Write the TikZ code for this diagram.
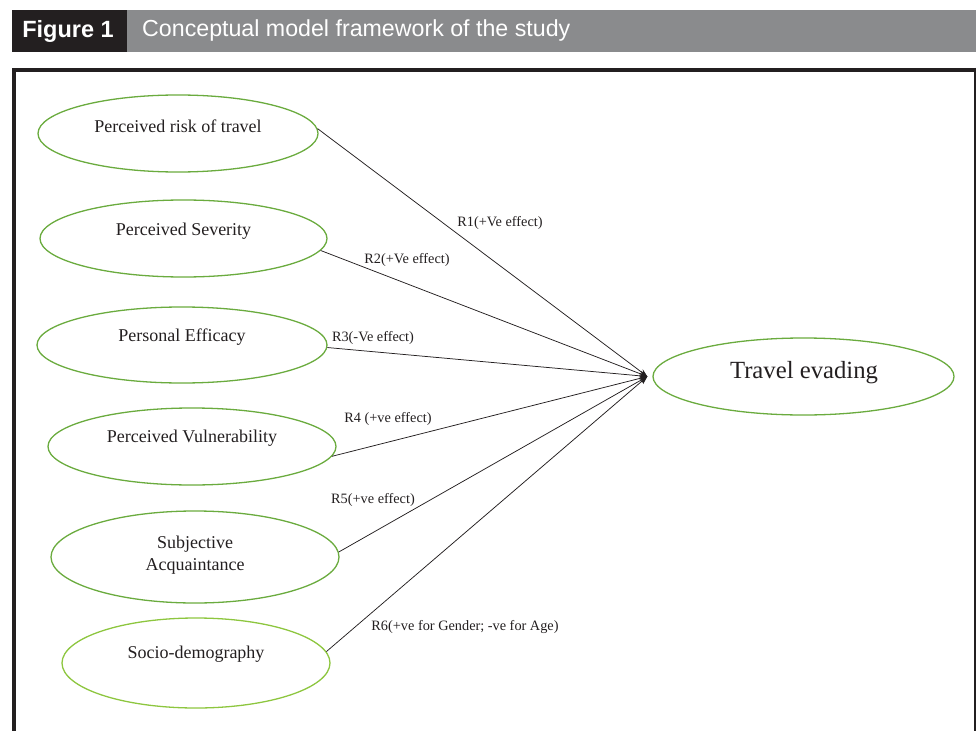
\documentclass[tikz,border=0pt]{standalone}
\usepackage{fontspec}
\setmainfont{Liberation Serif}
\newfontfamily\hdrfont{Liberation Sans}
\usetikzlibrary{arrows.meta,shapes.geometric}
\definecolor{framec}{HTML}{231F20}
\definecolor{hdrgray}{HTML}{8A8B8D}
\definecolor{egreen}{HTML}{6AAB3E}
\definecolor{elight}{HTML}{8DC63F}
\definecolor{txt}{HTML}{231F20}
\begin{document}
\begin{tikzpicture}[x=1pt,y=-1pt,
  ell/.style={ellipse, draw=egreen, line width=1.3pt, inner sep=0pt},
  elab/.style={font=\fontsize{18}{21}\selectfont, text=txt, align=center, inner sep=0pt},
  rlab/.style={font=\fontsize{14.3}{17}\selectfont, text=txt, inner sep=0pt},
  conn/.style={draw=txt, line width=0.75pt, -{Stealth[length=8pt,width=6pt]}}]
\useasboundingbox (0,0) rectangle (976,730);
\clip (0,0) rectangle (976,730);
% header
\fill[framec] (12,10) rectangle (127,52);
\fill[hdrgray] (127,10) rectangle (976,52);
\node[font=\hdrfont\bfseries\fontsize{23.5}{26}\selectfont, text=white, inner sep=0pt] (fig) at (68,31) {Figure 1};
\node[font=\hdrfont\fontsize{23.2}{26}\selectfont, text=white, anchor=west, inner sep=0pt] (title) at (142,31) {Conceptual model framework of the study};
% frame
\draw[framec, line width=4pt] (14,740) -- (14,70) -- (976,70);
\draw[framec, line width=2.5pt] (975,68) -- (975,740);
% ellipses
\node[ell, minimum width=280pt, minimum height=77pt] (e1) at (178,133.5) {};
\node[elab] (t1) at (178,126) {Perceived risk of travel};
\node[ell, minimum width=287pt, minimum height=77pt] (e2) at (183.5,238.5) {};
\node[elab] (t2) at (183.5,231) {Perceived Severity};
\node[ell, minimum width=290pt, minimum height=76pt] (e3) at (182,345) {};
\node[elab] (t3) at (182,337) {Personal Efficacy};
\node[ell, minimum width=288pt, minimum height=77pt] (e4) at (192,446.5) {};
\node[elab] (t4) at (192,438) {Perceived Vulnerability};
\node[ell, minimum width=288pt, minimum height=92pt] (e5) at (195,557) {};
\node[elab] (t5) at (195,555) {Subjective\\[1pt]Acquaintance};
\node[ell, draw=elight, minimum width=268pt, minimum height=90pt] (e6) at (196,663) {};
\node[elab] (t6) at (196,654) {Socio-demography};
\node[ell, minimum width=301pt, minimum height=77pt] (te) at (803.5,376.5) {};
\node[font=\fontsize{24.7}{28}\selectfont, text=txt, inner sep=0pt] (tt) at (804,373) {Travel evading};
\coordinate (hub) at ([xshift=-5pt]te.west);
% connectors
\draw[conn] (e1.2) -- (hub);
\draw[conn] (e2.-5) -- (hub);
\draw[conn] (e3.-1) -- (hub);
\draw[conn] (e4.-4) -- (hub);
\draw[conn] (e5.2) -- (hub);
\draw[conn] (e6.5) -- (hub);
% labels
\node[rlab] (r1) at (500,223) {R1(+Ve effect)};
\node[rlab] (r2) at (407,260) {R2(+Ve effect)};
\node[rlab] (r3) at (373,338) {R3(-Ve effect)};
\node[rlab] (r4) at (388,419) {R4 (+ve effect)};
\node[rlab] (r5) at (373,500) {R5(+ve effect)};
\node[rlab] (r6) at (465,627) {R6(+ve for Gender; -ve for Age)};
\end{tikzpicture}
\end{document}
